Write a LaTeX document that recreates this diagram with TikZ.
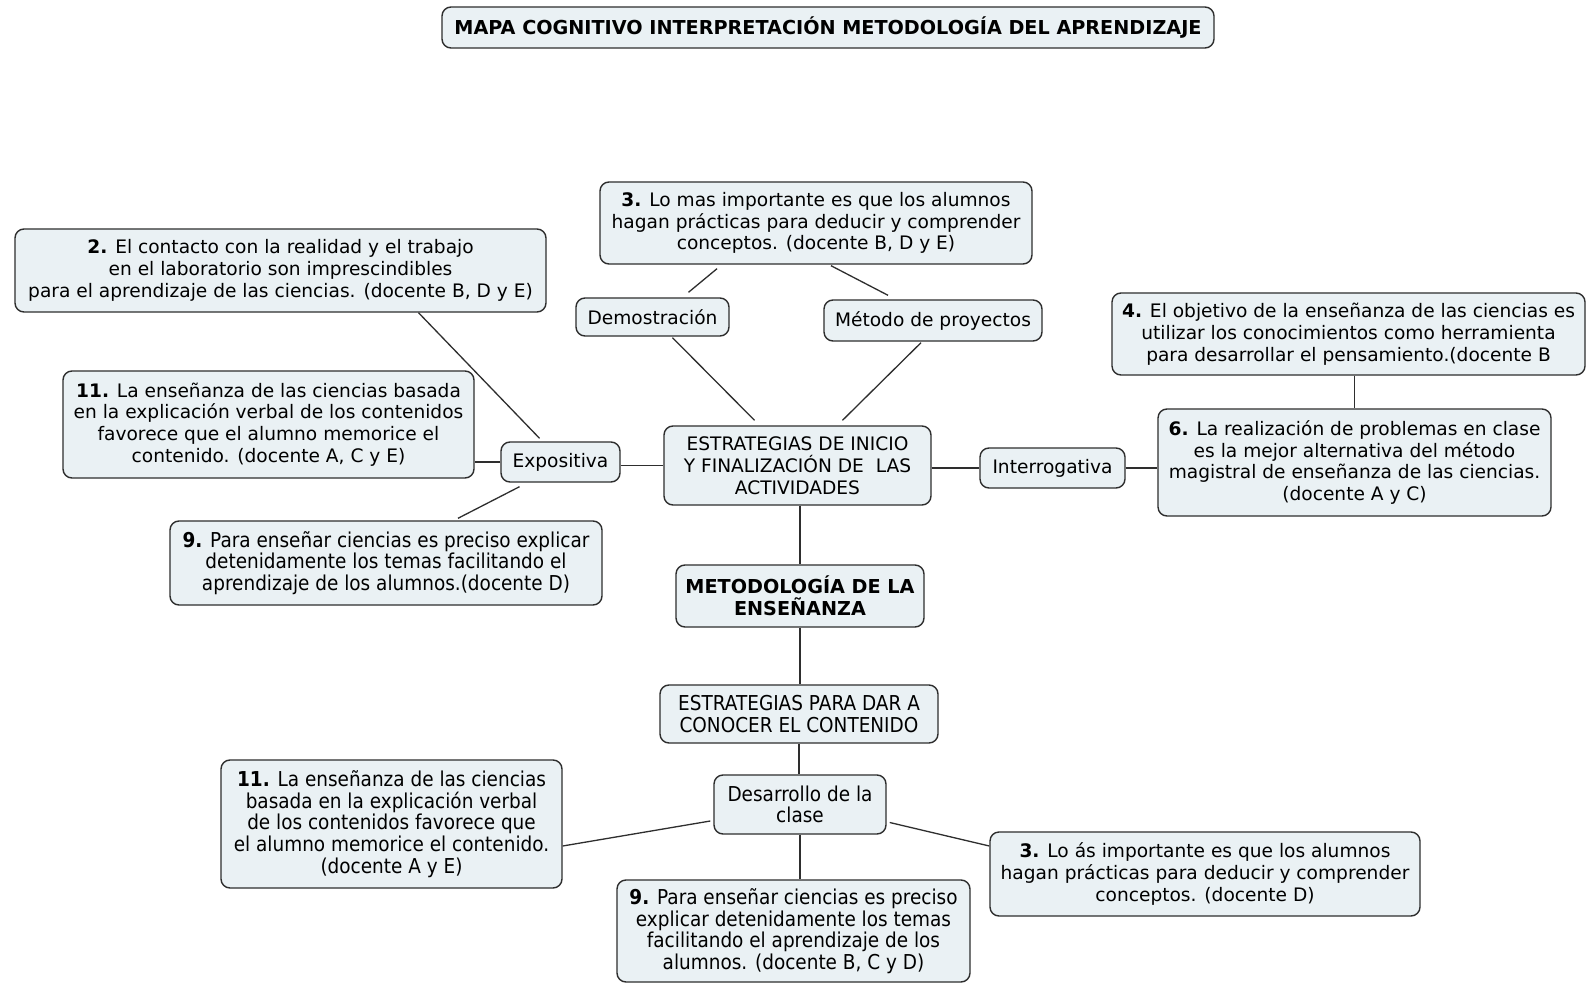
\documentclass[tikz,border=0pt]{standalone}
\usepackage{fontspec}
\setmainfont{DejaVu Sans}
\newfontfamily\condfont{DejaVu Sans}[FakeStretch=0.9]
\usetikzlibrary{calc}
\definecolor{boxfill}{HTML}{EAF1F4}
\definecolor{linec}{HTML}{2E2E2E}
\tikzset{
  cbox/.style={draw=linec, fill=boxfill, rounded corners=9pt, line width=1.4pt,
    align=center, inner sep=0pt, font=\fontsize{18.6}{21.8}\selectfont},
  ccond/.style={cbox, font=\condfont\fontsize{20.5}{21.6}\selectfont},
  cbold/.style={cbox, font=\bfseries\fontsize{19.2}{21.8}\selectfont},
  link/.style={draw=linec, line width=1.3pt},
  sz/.style 2 args={minimum width=#1pt, minimum height=#2pt}
}
\begin{document}
\begin{tikzpicture}[x=1pt, y=-1pt]
\useasboundingbox[fill=white] (0,0) rectangle (1587,984);

% title
\node[cbold, sz={772}{41}] (title) at (828,27.5)
  {MAPA COGNITIVO INTERPRETACIÓN METODOLOGÍA DEL APRENDIZAJE};

% upper branch
\node[cbox, sz={531}{83}] (b2) at (280.5,270.5)
  {\textbf{2.} El contacto con la realidad y el trabajo\\en el laboratorio son imprescindibles\\para el aprendizaje de las ciencias. (docente B, D y E)};
\node[cbox, sz={411}{107}] (b11a) at (268.5,424.5)
  {\textbf{11.} La enseñanza de las ciencias basada\\en la explicación verbal de los contenidos\\favorece que el alumno memorice el\\contenido. (docente A, C y E)};
\node[cbox, sz={119}{40}] (expo) at (560.5,462) {Expositiva};
\node[ccond, sz={432}{84}] (b9a) at (386,563)
  {\textbf{9.} Para enseñar ciencias es preciso explicar\\detenidamente los temas facilitando el\\aprendizaje de los alumnos.(docente D)};
\node[cbox, sz={432}{82}] (b3t) at (816,223)
  {\textbf{3.} Lo mas importante es que los alumnos\\hagan prácticas para deducir y comprender\\conceptos. (docente B, D y E)};
\node[cbox, sz={153}{38}] (demo) at (652.5,317) {Demostración};
\node[cbox, sz={218}{41}] (meto) at (933,320.5) {Método de proyectos};
\node[cbox, sz={267}{79}] (est1) at (797.5,465.5)
  {ESTRATEGIAS DE INICIO\\Y FINALIZACIÓN DE\ \ LAS\\ACTIVIDADES};
\node[cbox, sz={145}{40}] (inter) at (1052.5,468) {Interrogativa};
\node[cbox, sz={473}{82}] (b4) at (1348.5,334)
  {\textbf{4.} El objetivo de la enseñanza de las ciencias es\\utilizar los conocimientos como herramienta\\para desarrollar el pensamiento.(docente B};
\node[cbox, sz={393}{107}] (b6) at (1354.5,462.5)
  {\textbf{6.} La realización de problemas en clase\\es la mejor alternativa del método\\magistral de enseñanza de las ciencias.\\(docente A y C)};

% centre
\node[cbold, sz={248}{62}] (met) at (800,596)
  {METODOLOGÍA DE LA\\ENSEÑANZA};

% lower branch
\node[ccond, sz={278}{58}] (edc) at (799,714)
  {ESTRATEGIAS PARA DAR A\\CONOCER EL CONTENIDO};
\node[ccond, sz={172}{59}] (des) at (800,804.5) {Desarrollo de la\\clase};
\node[ccond, sz={341}{128}] (b11b) at (391.5,824)
  {\textbf{11.} La enseñanza de las ciencias\\basada en la explicación verbal\\de los contenidos favorece que\\el alumno memorice el contenido.\\(docente A y E)};
\node[ccond, sz={353}{102}] (b9b) at (793.5,931)
  {\textbf{9.} Para enseñar ciencias es preciso\\explicar detenidamente los temas\\facilitando el aprendizaje de los\\alumnos. (docente B, C y D)};
\node[cbox, sz={430}{84}] (b3b) at (1205,874)
  {\textbf{3.} Lo ás importante es que los alumnos\\hagan prácticas para deducir y comprender\\conceptos. (docente D)};

% connectors
\draw[link] ([xshift=138pt]b2.south) -- ([xshift=-21pt,yshift=3pt]expo.north);
\draw[link] (expo.west) -- (expo.west -| b11a.east);
\draw[link] ([xshift=-41pt,yshift=-4pt]expo.south) -- ([xshift=72pt,yshift=2pt]b9a.north);
\draw[link] (expo.east |- est1.west) -- (est1.west);
\draw[link] ([xshift=-99pt,yshift=-4pt]b3t.south) -- ([xshift=36pt,yshift=5pt]demo.north);
\draw[link] ([xshift=15pt,yshift=-1pt]b3t.south) -- ([xshift=-45pt,yshift=4pt]meto.north);
\draw[link] ([xshift=20pt,yshift=-1pt]demo.south) -- ([xshift=-43pt,yshift=5pt]est1.north);
\draw[link] ([xshift=-12pt,yshift=-1pt]meto.south) -- ([xshift=45pt,yshift=5pt]est1.north);
\draw[link] (est1.east |- inter.west) -- (inter.west);
\draw[link] (inter.east) -- (inter.east -| b6.west);
\draw[link] (b6.north |- b4.south) -- (b6.north);
\draw[link] (met.north |- est1.south) -- (met.north);
\draw[link] (met.south) -- (met.south |- edc.north);
\draw[link] (edc.south) -- (edc.south |- des.north);
\draw[link] ([xshift=-3pt,yshift=-16.5pt]des.west) -- ([yshift=-22pt]b11b.east);
\draw[link] ([xshift=3pt,yshift=-18pt]des.east) -- ([yshift=28pt]b3b.west);
\draw[link] (des.south) -- (des.south |- b9b.north);
\end{tikzpicture}
\end{document}
